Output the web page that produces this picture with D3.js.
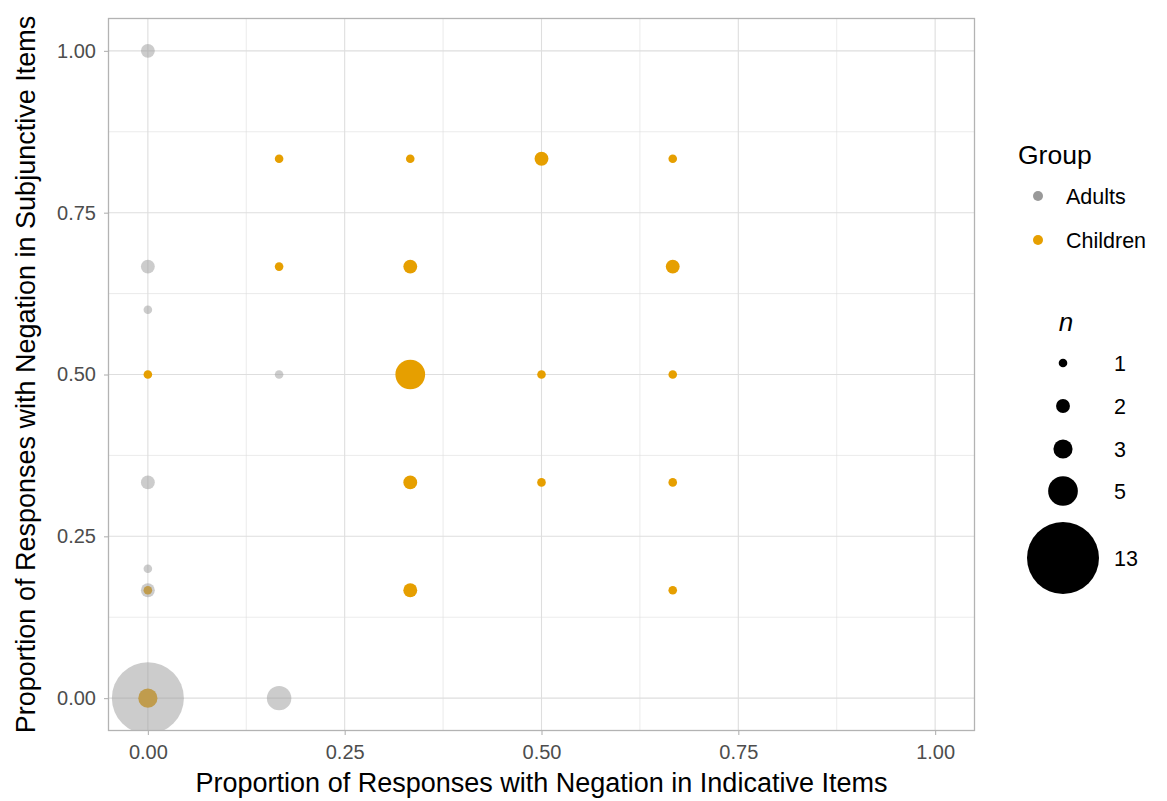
<!DOCTYPE html>
<html lang="en">
<head>
  <meta charset="UTF-8">
  <title>Negation proportions</title>
  <script src="https://d3js.org/d3.v7.min.js"></script>
  <style>
    body { margin: 0; background: white; font-family: "Liberation Sans", Arial, sans-serif; }
    svg { display: block; }
  </style>
</head>
<body>
  <svg width="1167" height="801"></svg>
  <script>
    // data: proportion (indicative), proportion (subjunctive), count n
    const adultX = [0, 0, 0, 0.1667, 0, 0, 0, 0, 0.1667];
    const adultY = [1.0, 0.6667, 0.6, 0.5, 0.3333, 0.2, 0.1667, 0, 0];
    const adultN = [2, 2, 1, 1, 2, 1, 2, 13, 4];

    const childX = [0.1667, 0.3333, 0.5, 0.6667, 0.1667, 0.3333, 0.6667, 0, 0.3333, 0.5, 0.6667, 0.3333, 0.5, 0.6667, 0, 0.3333, 0.6667, 0];
    const childY = [0.8333, 0.8333, 0.8333, 0.8333, 0.6667, 0.6667, 0.6667, 0.5, 0.5, 0.5, 0.5, 0.3333, 0.3333, 0.3333, 0.1667, 0.1667, 0.1667, 0];
    const childN = [1, 1, 2, 1, 1, 2, 2, 1, 5, 1, 1, 2, 1, 1, 1, 2, 1, 3];

    const ticks = [0, 0.25, 0.5, 0.75, 1];
    const minorTicks = [0.125, 0.375, 0.625, 0.875];
    const sizeBreaks = [1, 2, 3, 5, 13];
    const groups = ["Adults", "Children"];

    const svg = d3.select("svg");
    const margin = { left: 108.5, right: 974.5, top: 18.5, bottom: 730.5 };

    const x = d3.scaleLinear().domain([-0.05, 1.05]).range([margin.left, margin.right]);
    const y = d3.scaleLinear().domain([-0.05, 1.05]).range([margin.bottom, margin.top]);
    const r = d3.scaleLinear().domain([1, 13]).range([4.3, 36]);
    const color = d3.scaleOrdinal().domain(groups).range(["#999999", "#E69F00"]);

    const W = margin.right - margin.left, H = margin.bottom - margin.top;

    // clip to panel
    svg.append("clipPath").attr("id", "panel")
      .append("rect").attr("x", margin.left).attr("y", margin.top).attr("width", W).attr("height", H);

    const grid = svg.append("g");
    grid.selectAll(".vmin").data(minorTicks).enter().append("line")
      .attr("x1", d => x(d)).attr("x2", d => x(d)).attr("y1", margin.top).attr("y2", margin.bottom)
      .attr("stroke", "#DEDEDE").attr("stroke-width", 0.6);
    grid.selectAll(".hmin").data(minorTicks).enter().append("line")
      .attr("y1", d => y(d)).attr("y2", d => y(d)).attr("x1", margin.left).attr("x2", margin.right)
      .attr("stroke", "#DEDEDE").attr("stroke-width", 0.6);
    grid.selectAll(".vmaj").data(ticks).enter().append("line")
      .attr("x1", d => x(d)).attr("x2", d => x(d)).attr("y1", margin.top).attr("y2", margin.bottom)
      .attr("stroke", "#DEDEDE").attr("stroke-width", 1.1);
    grid.selectAll(".hmaj").data(ticks).enter().append("line")
      .attr("y1", d => y(d)).attr("y2", d => y(d)).attr("x1", margin.left).attr("x2", margin.right)
      .attr("stroke", "#DEDEDE").attr("stroke-width", 1.1);

    const adults = adultX.map((v, i) => ({ x: v, y: adultY[i], n: adultN[i] }));
    const children = childX.map((v, i) => ({ x: v, y: childY[i], n: childN[i] }));

    const pts = svg.append("g").attr("clip-path", "url(#panel)");
    pts.selectAll(".child").data(children).enter().append("circle")
      .attr("cx", d => x(d.x)).attr("cy", d => y(d.y)).attr("r", d => r(d.n))
      .attr("fill", color("Children"));
    pts.selectAll(".adult").data(adults).enter().append("circle")
      .attr("cx", d => x(d.x)).attr("cy", d => y(d.y)).attr("r", d => r(d.n))
      .attr("fill", color("Adults")).attr("fill-opacity", 0.5);

    // panel border
    svg.append("rect").attr("x", margin.left).attr("y", margin.top).attr("width", W).attr("height", H)
      .attr("fill", "none").attr("stroke", "#B3B3B3").attr("stroke-width", 1.3);

    // axes
    const fmt = d3.format(".2f");
    const xAxis = svg.append("g").attr("transform", `translate(0,${margin.bottom})`)
      .call(d3.axisBottom(x).tickValues(ticks).tickFormat(fmt).tickSize(4.5).tickPadding(10));
    const yAxis = svg.append("g").attr("transform", `translate(${margin.left},0)`)
      .call(d3.axisLeft(y).tickValues(ticks).tickFormat(fmt).tickSize(4.5).tickPadding(8));
    [xAxis, yAxis].forEach(a => {
      a.select(".domain").remove();
      a.selectAll(".tick line").attr("stroke", "#B3B3B3").attr("stroke-width", 1.1);
      a.selectAll(".tick text").attr("fill", "#4D4D4D").attr("font-size", 20)
        .attr("font-family", "Liberation Sans, Arial, sans-serif");
    });

    svg.append("text").attr("x", (margin.left + margin.right) / 2).attr("y", 792)
      .attr("text-anchor", "middle").attr("font-size", 27).attr("fill", "black")
      .text("Proportion of Responses with Negation in Indicative Items");
    svg.append("text").attr("transform", `translate(35,${(margin.top + margin.bottom) / 2}) rotate(-90)`)
      .attr("text-anchor", "middle").attr("font-size", 27).attr("fill", "black")
      .text("Proportion of Responses with Negation in Subjunctive Items");

    // legend: group
    const lg = svg.append("g");
    lg.append("text").attr("x", 1018).attr("y", 164).attr("font-size", 26.5).text("Group");
    groups.forEach((g, i) => {
      const cy = 196 + i * 44;
      lg.append("circle").attr("cx", 1038).attr("cy", cy).attr("r", 5).attr("fill", color(g));
      lg.append("text").attr("x", 1066).attr("y", cy + 8).attr("font-size", 21.5).text(g);
    });

    // legend: size
    lg.append("text").attr("x", 1066).attr("y", 331).attr("font-size", 26)
      .attr("text-anchor", "middle").attr("font-style", "italic").text("n");
    const sizeY = [363, 406, 449, 491, 558];
    sizeBreaks.forEach((n, i) => {
      lg.append("circle").attr("cx", 1063).attr("cy", sizeY[i]).attr("r", r(n)).attr("fill", "black");
      lg.append("text").attr("x", 1114).attr("y", sizeY[i] + 8).attr("font-size", 21.5).text(n);
    });
  </script>
</body>
</html>
